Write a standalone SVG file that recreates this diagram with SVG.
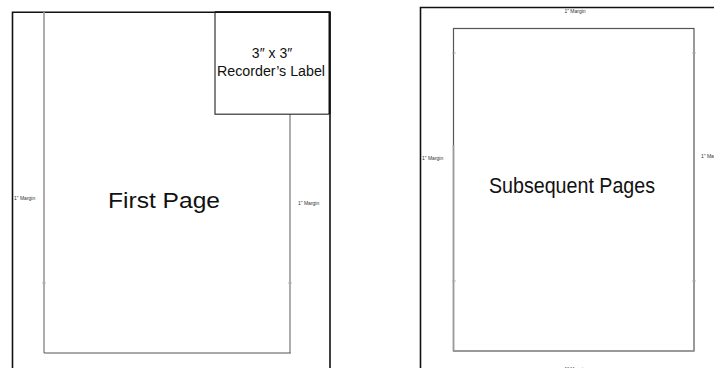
<svg xmlns="http://www.w3.org/2000/svg" width="714" height="368" viewBox="0 0 714 368">
<style>
.page{fill:none;stroke:#111;stroke-width:1.6}
.inner{fill:none;stroke:#555;stroke-width:1.2}
.side{stroke:#999;stroke-width:1.6}
.seam{stroke:#aaa;stroke-width:0.8}
.t{font-family:"Liberation Sans",Arial,sans-serif;fill:#111}
.big{font-size:22px;text-anchor:middle}
.lab{font-size:14px;text-anchor:middle}
.small{font-size:5px;fill:#333}
</style>
<rect width="714" height="368" fill="#fff"/>
<g id="first-page">
<path class="page" d="M12.5 372V12.2H330V372"/>
<line class="side" x1="44" y1="12" x2="44" y2="353"/>
<line class="side" x1="290" y1="114" x2="290" y2="353"/>
<line class="inner" x1="44" y1="353" x2="290.8" y2="353"/>
<line class="seam" x1="42" y1="283" x2="46" y2="283"/>
<line class="seam" x1="288" y1="283" x2="292" y2="283"/>
<text class="t big" x="164" y="207.5" font-size="23.5" textLength="112" lengthAdjust="spacingAndGlyphs">First Page</text>
<text class="t small" x="14" y="200">1" Margin</text>
<text class="t small" x="298" y="205">1" Margin</text>
</g>
<g id="recorders-label">
<rect x="215" y="12.2" width="115" height="102" fill="#fff" stroke="#333" stroke-width="1.2"/>
<line x1="215" y1="12.2" x2="330" y2="12.2" stroke="#111" stroke-width="1.8"/>
<line x1="329.5" y1="12" x2="329.5" y2="114" stroke="#111" stroke-width="2"/>
<text class="t lab" x="272" y="58">3″ x 3″</text>
<text class="t lab" x="271" y="76" textLength="108" lengthAdjust="spacingAndGlyphs">Recorder’s Label</text>
</g>
<g id="subsequent-pages">
<path class="page" d="M420.5 372V7.5H720"/>
<rect class="inner" x="453.5" y="28.5" width="240.5" height="322.5"/>
<line class="side" x1="453.5" y1="145" x2="453.5" y2="351"/>
<line class="side" x1="694" y1="145" x2="694" y2="351"/>
<line class="seam" x1="452" y1="53" x2="456" y2="53"/>
<line class="seam" x1="692" y1="53" x2="696" y2="53"/>
<line class="seam" x1="452" y1="281" x2="456" y2="281"/>
<line class="seam" x1="692" y1="281" x2="696" y2="281"/>
<text class="t big" x="572" y="193" textLength="166" lengthAdjust="spacingAndGlyphs">Subsequent Pages</text>
<text class="t small" x="575" y="12.5" text-anchor="middle">1" Margin</text>
<text class="t small" x="422" y="160">1" Margin</text>
<text class="t small" x="701" y="158">1" Margin</text>
<text class="t small" x="575" y="371" text-anchor="middle">1" Margin</text>
</g>
</svg>
